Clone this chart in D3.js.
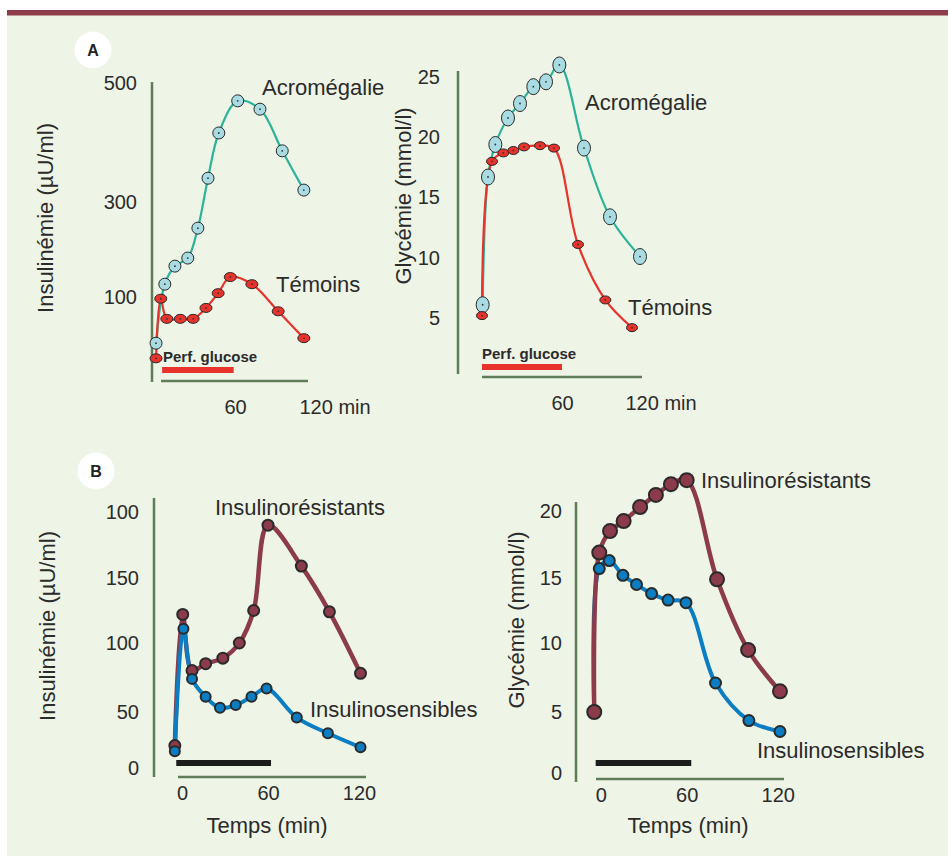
<!DOCTYPE html>
<html>
<head>
<meta charset="utf-8">
<script src="https://cdn.jsdelivr.net/npm/d3@7"></script>
<style>
  body { margin: 0; background: #fff; }
  svg text { font-family: "Liberation Sans", Arial, sans-serif; fill: #2b2b2b; }
</style>
</head>
<body>
<svg id="chart" width="948" height="856"></svg>
<script>
// ---- data ----
// A : insulinémie (µU/ml)
const timeAInsAcro = [1.5, 8, 15.5, 25, 32.5, 40, 48, 62, 78.5, 95, 111]
const insAcro      = [45, 127, 165, 182, 245, 340, 416, 470, 456, 386, 320]
const timeAInsTem  = [1.5, 5, 9.5, 19.5, 29, 38.5, 47.5, 56.5, 72.5, 92, 111]
const insTem       = [27, 98, 74, 74, 74, 87, 108, 142, 127, 83, 51]

// A : glycémie (mmol/l)
const timeAGluAcro = [0.5, 4.5, 10, 19.5, 28.5, 38.5, 48, 58, 76.5, 96, 118.5]
const gluAcro      = [6.1, 16.7, 19.4, 21.6, 22.8, 24.2, 24.6, 26.0, 19.1, 13.4, 10.1]
const timeAGluTem  = [0, 7.5, 16, 23.5, 31.5, 43.5, 54, 72, 92.5, 112.5]
const gluTem       = [5.2, 18.0, 18.7, 18.9, 19.2, 19.3, 19.1, 11.1, 6.5, 4.2]

// B : insulinémie
const timeBInsRes  = [-5, 0.5, 7, 16.5, 28.5, 40, 50, 60, 82, 100.5, 121]
const insRes       = [20, 122, 80, 85, 89, 100, 125, 190, 159, 124, 78]
const timeBInsSens = [-5, 1, 7, 16.5, 26.5, 37.5, 48.5, 59, 79, 99.5, 121]
const insSens      = [15, 111, 74, 61, 53, 55, 61, 67, 45, 31, 18.5]

// B : glycémie
const timeBGluRes  = [-4.5, -1, 6.5, 16, 27.5, 38.5, 49, 60, 80, 100.5, 121.5]
const gluRes       = [5.0, 16.9, 18.5, 19.25, 20.3, 21.2, 22.0, 22.3, 14.9, 9.5, 6.5]
const timeBGluSens = [-4.5, -1, 6, 15.5, 25, 35.5, 47, 59.5, 79, 101, 121.5]
const gluSens      = [5.0, 15.7, 16.3, 15.2, 14.5, 13.8, 13.3, 13.1, 7.1, 4.3, 3.4]

// perfusion bars (min)
const perfA1 = [6, 59]
const perfA2 = [0, 60]
const perfB1 = [-4, 62]
const perfB2 = [-3.5, 63]

// ticks
const ticksAIns  = [0, 100, 300, 500]
const labelsAIns = ['', '100', '300', '500']
const ticksAGlu  = [5, 10, 15, 20, 25]
const ticksBIns  = [0, 50, 100, 150, 200]
const labelsBIns = ['0', '50', '100', '150', '100']
const ticksBGlu  = [0, 5, 10, 15, 20]
const ticksTimeA = [60, 120]
const labelsTimeA = ['60', '120 min']
const ticksTimeB = [0, 60, 120]

const zip = (a, b) => a.map((d, i) => [d, b[i]])

// colours
const teal = '#2bb39b', tealFill = '#a8dce2', red = '#e8322c'
const maroon = '#8c3b4a', blue = '#0b7dc3', axisCol = '#5e7d58', ink = '#2b2b2b'

var svg = d3.select('#chart')

// background + top rule
svg.append('rect').attr('x', 7).attr('y', 10).attr('width', 941).attr('height', 846).attr('fill', '#eef4e6')
svg.append('rect').attr('x', 7).attr('y', 10).attr('width', 941).attr('height', 5.5).attr('fill', '#8f3c4a')

function drawPanel (o) {
  var g = svg.append('g')

  // axis lines
  g.append('line')
    .attr('x1', o.yAxisX).attr('x2', o.yAxisX)
    .attr('y1', o.yAxisTop).attr('y2', o.yAxisBottom)
    .attr('stroke', axisCol).attr('stroke-width', 2.5)
  g.append('line')
    .attr('x1', o.xAxisLeft).attr('x2', o.xAxisRight)
    .attr('y1', o.xAxisY).attr('y2', o.xAxisY)
    .attr('stroke', axisCol).attr('stroke-width', 2.5)

  // y ticks
  g.append('g')
    .attr('transform', 'translate(' + o.yAxisX + ',0)')
    .call(d3.axisLeft(o.y).tickValues(o.yTicks).tickSize(0).tickPadding(o.yPad)
      .tickFormat(function (d, i) { return o.yLabels ? o.yLabels[i] : d }))
    .call(a => a.select('.domain').remove())
    .selectAll('text').style('font-size', '20px')

  // x ticks
  var xa = g.append('g')
    .attr('transform', 'translate(0,' + o.xAxisY + ')')
    .call(d3.axisBottom(o.x).tickValues(o.xTicks).tickSize(0).tickPadding(o.xPad)
      .tickFormat(function (d, i) { return o.xLabels ? o.xLabels[i] : d }))
    .call(a => a.select('.domain').remove())
  xa.selectAll('text').style('font-size', '20px')
    .filter(function (d, i) { return o.xLabels && o.xLabels[i].indexOf('min') > 0 })
    .attr('text-anchor', 'start').attr('dx', -17)

  // y label
  g.append('text')
    .attr('transform', 'translate(' + o.yTitle[0] + ',' + o.yTitle[1] + ')rotate(-90)')
    .attr('text-anchor', 'middle').attr('dy', '0.35em')
    .style('font-size', '22px')
    .text(o.yTitleText)

  if (o.xTitle) {
    g.append('text')
      .attr('x', o.xTitle[0]).attr('y', o.xTitle[1])
      .attr('text-anchor', 'middle')
      .style('font-size', '22px')
      .text('Temps (min)')
  }

  // perfusion bar
  g.append('rect')
    .attr('x', o.x(o.perf[0])).attr('width', o.x(o.perf[1]) - o.x(o.perf[0]))
    .attr('y', o.perfY).attr('height', 6)
    .attr('fill', o.perfCol)
  if (o.perfText) {
    g.append('text')
      .attr('x', o.perfText[0]).attr('y', o.perfText[1])
      .style('font-size', '15px').style('font-weight', 'bold')
      .text('Perf. glucose')
  }

  var line = d3.line()
    .x(d => o.x(d[0])).y(d => o.y(d[1]))
    .curve(d3.curveCatmullRom.alpha(0.5))

  o.series.forEach(function (s) {
    g.append('path').datum(s.data)
      .attr('d', line).attr('fill', 'none')
      .attr('stroke', s.line).attr('stroke-width', s.lw)
      .attr('stroke-linejoin', 'round').attr('stroke-linecap', 'round')
  })
  o.series.forEach(function (s) {
    var m = g.append('g')
    m.selectAll('ellipse').data(s.data).enter().append('ellipse')
      .attr('cx', d => o.x(d[0])).attr('cy', d => o.y(d[1]))
      .attr('rx', s.rx).attr('ry', s.ry)
      .attr('fill', s.fill).attr('stroke', '#2a2a2a').attr('stroke-width', s.sw)
    if (s.dot) {
      m.selectAll('circle').data(s.data).enter().append('circle')
        .attr('cx', d => o.x(d[0])).attr('cy', d => o.y(d[1]))
        .attr('r', 0.9).attr('fill', '#333')
    }
  })

  o.labels.forEach(function (l) {
    g.append('text').attr('x', l[1]).attr('y', l[2])
      .style('font-size', '22px').text(l[0])
  })
}

// panel letters
function letter (cx, cy, t) {
  svg.append('circle').attr('cx', cx).attr('cy', cy).attr('r', 18.5).attr('fill', '#fff')
  svg.append('text').attr('x', cx).attr('y', cy).attr('dy', '0.36em')
    .attr('text-anchor', 'middle').style('font-size', '16px').style('font-weight', 'bold')
    .style('fill', '#222').text(t)
}
letter(93, 50, 'A')
letter(96, 471, 'B')

// A – insulinémie
drawPanel({
  x: d3.scaleLinear().domain([0, 120]).range([154, 316]),
  y: d3.scaleLinear().domain(ticksAIns).range([381, 297, 202, 83]),
  yTicks: ticksAIns.slice(1), yLabels: labelsAIns.slice(1), yPad: 15,
  xTicks: ticksTimeA, xLabels: labelsTimeA, xPad: 19,
  yAxisX: 152, yAxisTop: 82, yAxisBottom: 382,
  xAxisLeft: 161, xAxisRight: 308, xAxisY: 381,
  yTitle: [45, 218], yTitleText: 'Insulinémie (µU/ml)',
  perf: perfA1, perfY: 367, perfCol: red, perfText: [163, 362],
  series: [
    { data: zip(timeAInsAcro, insAcro), line: teal, lw: 2.2, fill: tealFill, rx: 6, ry: 6, sw: 1, dot: true },
    { data: zip(timeAInsTem, insTem), line: red, lw: 2.2, fill: red, rx: 6, ry: 4.5, sw: 1, dot: true }
  ],
  labels: [['Acromégalie', 262, 95], ['Témoins', 276, 292]]
})

// A – glycémie
drawPanel({
  x: d3.scaleLinear().domain([0, 120]).range([482, 642]),
  y: d3.scaleLinear().domain([5, 25]).range([318, 77]),
  yTicks: ticksAGlu, yPad: 18,
  xTicks: ticksTimeA, xLabels: labelsTimeA, xPad: 19,
  yAxisX: 458, yAxisTop: 71, yAxisBottom: 374,
  xAxisLeft: 482, xAxisRight: 642, xAxisY: 377,
  yTitle: [403, 196], yTitleText: 'Glycémie (mmol/l)',
  perf: perfA2, perfY: 364, perfCol: red, perfText: [482, 359],
  series: [
    { data: zip(timeAGluAcro, gluAcro), line: teal, lw: 2.2, fill: tealFill, rx: 6.5, ry: 8, sw: 1, dot: true },
    { data: zip(timeAGluTem, gluTem), line: red, lw: 2.2, fill: red, rx: 5.5, ry: 4, sw: 1, dot: true }
  ],
  labels: [['Acromégalie', 585, 110], ['Témoins', 628, 315]]
})

// B – insulinémie
drawPanel({
  x: d3.scaleLinear().domain(ticksTimeB).range([182, 268, 359]),
  y: d3.scaleLinear().domain(ticksBIns).range([768, 712, 643, 578, 512]),
  yTicks: ticksBIns, yLabels: labelsBIns, yPad: 15,
  xTicks: ticksTimeB, xPad: 9,
  yAxisX: 154, yAxisTop: 498, yAxisBottom: 777,
  xAxisLeft: 178, xAxisRight: 366, xAxisY: 777,
  yTitle: [47, 626], yTitleText: 'Insulinémie (µU/ml)', xTitle: [267, 833],
  perf: perfB1, perfY: 760, perfCol: '#1c1c1c',
  series: [
    { data: zip(timeBInsRes, insRes), line: maroon, lw: 4.5, fill: maroon, rx: 5.5, ry: 5.5, sw: 2 },
    { data: zip(timeBInsSens, insSens), line: blue, lw: 4, fill: blue, rx: 5, ry: 5, sw: 2 }
  ],
  labels: [['Insulinorésistants', 215, 515], ['Insulinosensibles', 310, 717]]
})

// B – glycémie
drawPanel({
  x: d3.scaleLinear().domain(ticksTimeB).range([600.7, 686.7, 777.7]),
  y: d3.scaleLinear().domain(ticksBGlu).range([773, 712, 643, 578, 511]),
  yTicks: ticksBGlu, yPad: 14,
  xTicks: ticksTimeB, xPad: 9,
  yAxisX: 576, yAxisTop: 502, yAxisBottom: 782,
  xAxisLeft: 596, xAxisRight: 784, xAxisY: 779,
  yTitle: [516, 620], yTitleText: 'Glycémie (mmol/l)', xTitle: [688, 833],
  perf: perfB2, perfY: 760, perfCol: '#1c1c1c',
  series: [
    { data: zip(timeBGluSens, gluSens), line: blue, lw: 4, fill: blue, rx: 5.5, ry: 5.5, sw: 2 },
    { data: zip(timeBGluRes, gluRes), line: maroon, lw: 4.5, fill: maroon, rx: 7, ry: 7, sw: 2 }
  ],
  labels: [['Insulinorésistants', 701, 488], ['Insulinosensibles', 757, 758]]
})
</script>
</body>
</html>
